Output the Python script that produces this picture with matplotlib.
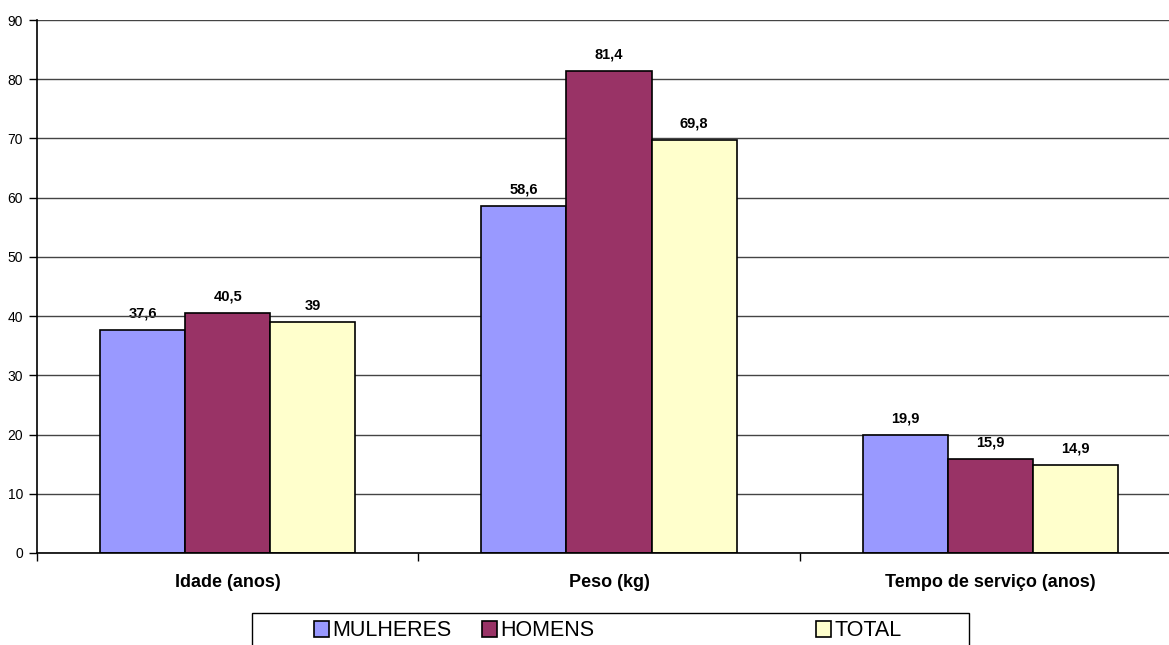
import numpy as np
import matplotlib.pyplot as plt
from matplotlib.patches import Patch, Rectangle

plt.rcParams['font.family'] = ['Liberation Sans', 'DejaVu Sans']

categories = ["Idade (anos)", "Peso (kg)", "Tempo de serviço (anos)"]
series_names = ["MULHERES", "HOMENS", "TOTAL"]
mulheres = [37.6, 58.6, 19.9]
homens = [40.5, 81.4, 15.9]
total = [39.0, 69.8, 14.9]
colors = ["#9999FF", "#993366", "#FFFFCC"]

def fmt(v):
    s = ("%.1f" % v).replace(".", ",")
    if s.endswith(",0"):
        s = s[:-2]
    return s

W, H = 1169, 645
fig = plt.figure(figsize=(W / 100, H / 100), dpi=100)
ax = fig.add_axes([37 / W, 1 - 553 / H, (1181 - 37) / W, (553 - 20) / H])

x = np.arange(len(categories))
bw = 0.223
for k, (vals, col) in enumerate(zip([mulheres, homens, total], colors)):
    bars = ax.bar(x + (k - 1) * bw, vals, bw, color=col, edgecolor="black",
                  linewidth=1.2, zorder=2)
    for b, v in zip(bars, vals):
        ax.text(b.get_x() + b.get_width() / 2, v + 1.6, fmt(v), ha="center",
                va="bottom", fontsize=10.5, fontweight="bold", zorder=0.3)

ax.set_xlim(-0.5, 2.5)
ax.set_ylim(0, 90)
ax.set_yticks(np.arange(0, 91, 10))
ax.yaxis.grid(True, color="#444444", linewidth=1.0)
ax.set_axisbelow(True)
for s in ["top", "right"]:
    ax.spines[s].set_visible(False)
ax.spines["left"].set_linewidth(1.2)
ax.spines["bottom"].set_linewidth(1.2)
ax.tick_params(axis="y", length=6, width=1, labelsize=10, pad=4)

ax.set_xticks(x)
ax.set_xticklabels(categories, fontsize=13, fontweight="bold")
ax.tick_params(axis="x", which="major", length=0, pad=15)
ax.set_xticks(np.arange(-0.5, 3, 1), minor=True)
ax.tick_params(axis="x", which="minor", length=6, width=1)

# legend box along the bottom edge
fig.add_artist(Rectangle((252 / W, 1 - 660 / H), (969 - 252) / W, 47 / H,
                         transform=fig.transFigure, facecolor="white",
                         edgecolor="black", linewidth=1.0))
leg_x = [314, 482, 816]
for name, col, lx in zip(series_names, colors, leg_x):
    fig.legend(handles=[Patch(facecolor=col, edgecolor="black", linewidth=1.2)],
               labels=[name], loc="center left",
               bbox_to_anchor=(lx / W, 1 - 631 / H), frameon=False,
               fontsize=15.5, handlelength=0.7, handleheight=0.7,
               handletextpad=0.15, borderpad=0, borderaxespad=0)

fig.savefig("out.png", dpi=100)
